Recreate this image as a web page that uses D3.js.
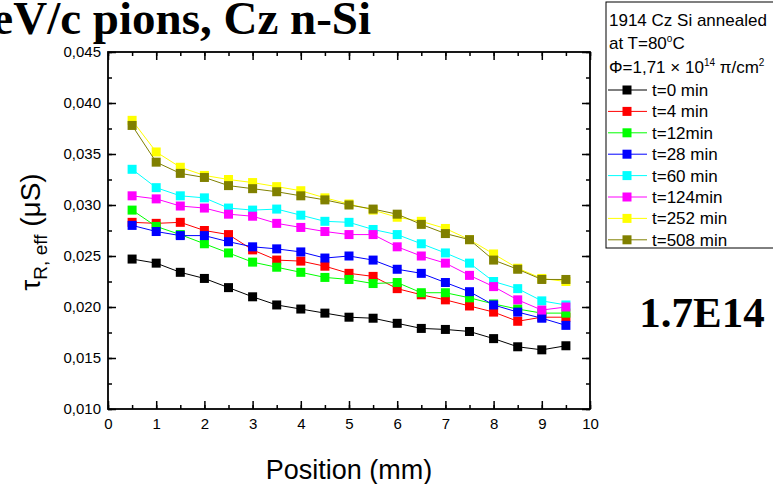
<!DOCTYPE html>
<html><head><meta charset="utf-8">
<script src="https://cdn.jsdelivr.net/npm/d3@7"></script>
<style>body{margin:0;background:#fff}svg{display:block}</style>
</head><body>
<svg id="c" width="773" height="484"></svg>
<script>
const positions = [0.5,1,1.5,2,2.5,3,3.5,4,4.5,5,5.5,6,6.5,7,7.5,8,8.5,9,9.5];
const seriesNames = ["t=0 min","t=4 min","t=12min","t=28 min","t=60 min","t=124min","t=252 min","t=508 min"];
const seriesColors = ["#000000","#ff0000","#00ff00","#0000ff","#00ffff","#ff00ff","#ffff00","#808000"];
const t0   = [0.0247,0.0243,0.0234,0.0228,0.0219,0.0210,0.0202,0.0198,0.0194,0.0190,0.0189,0.0184,0.0179,0.0178,0.0176,0.0169,0.0161,0.0158,0.0162];
const t4   = [0.0283,0.0282,0.0283,0.0275,0.0271,0.0256,0.0246,0.0245,0.0240,0.0233,0.0230,0.0218,0.0212,0.0207,0.0201,0.0195,0.0186,0.0190,0.0190];
const t12  = [0.0295,0.0279,0.0271,0.0262,0.0253,0.0244,0.0239,0.0234,0.0229,0.0227,0.0223,0.0224,0.0214,0.0214,0.0209,0.0203,0.0198,0.0194,0.0194];
const t28  = [0.0280,0.0274,0.0270,0.0270,0.0264,0.0259,0.0257,0.0254,0.0248,0.0250,0.0246,0.0237,0.0233,0.0224,0.0215,0.0202,0.0195,0.0189,0.0182];
const t60  = [0.0335,0.0317,0.0309,0.0307,0.0297,0.0295,0.0296,0.0290,0.0284,0.0283,0.0276,0.0271,0.0262,0.0253,0.0243,0.0225,0.0218,0.0206,0.0202];
const t124 = [0.0309,0.0306,0.0299,0.0297,0.0291,0.0289,0.0282,0.0278,0.0274,0.0271,0.0271,0.0259,0.0250,0.0243,0.0231,0.0220,0.0207,0.0197,0.0200];
const t252 = [0.0383,0.0352,0.0337,0.0329,0.0325,0.0322,0.0318,0.0314,0.0307,0.0301,0.0295,0.0288,0.0284,0.0277,0.0266,0.0252,0.0238,0.0228,0.0225];
const t508 = [0.0378,0.0342,0.0331,0.0327,0.0319,0.0316,0.0313,0.0309,0.0305,0.0300,0.0296,0.0291,0.0281,0.0272,0.0266,0.0246,0.0237,0.0227,0.0227];
const seriesValues = [t0,t4,t12,t28,t60,t124,t252,t508];
const xTicks = [0,1,2,3,4,5,6,7,8,9,10];
const yTicks = [0.010,0.015,0.020,0.025,0.030,0.035,0.040,0.045];

const svg = d3.select("#c");
const L=108,R=590,T=52,B=409;
const x = d3.scaleLinear().domain([0,10]).range([L,R]);
const y = d3.scaleLinear().domain([0.010,0.045]).range([B,T]);
const sans = "Arial, 'Liberation Sans', Helvetica, sans-serif";
const serif = "'Times New Roman', 'Liberation Serif', serif";

// title
svg.append("text").attr("x",371).attr("y",34).attr("text-anchor","end")
  .attr("font-family",serif).attr("font-weight","bold").attr("font-size",47)
  .text("eV/c pions, Cz n-Si");

// axes (ticks inward on all sides)
const minorX = d3.range(0,10.01,0.5), minorY = d3.range(0.010,0.0451,0.0025);
const g = svg.append("g");
const axB = d3.axisBottom(x).tickValues(xTicks).tickSize(-8).tickFormat(d3.format("d"));
const axT = d3.axisTop(x).tickValues(xTicks).tickSize(-8).tickFormat("");
const axL = d3.axisLeft(y).tickValues(yTicks).tickSize(-8).tickFormat(d=>d3.format(".3f")(d).replace(".",","));
const axR = d3.axisRight(y).tickValues(yTicks).tickSize(-8).tickFormat("");
const mB = d3.axisBottom(x).tickValues(minorX).tickSize(-4).tickFormat("");
const mT = d3.axisTop(x).tickValues(minorX).tickSize(-4).tickFormat("");
const mL = d3.axisLeft(y).tickValues(minorY).tickSize(-4).tickFormat("");
const mR = d3.axisRight(y).tickValues(minorY).tickSize(-4).tickFormat("");
function place(ax, tr){ const a=g.append("g").attr("transform",tr).call(ax);
  a.select(".domain").remove(); a.selectAll("line").attr("stroke","#000").attr("stroke-width",1.5);
  a.selectAll("text").attr("font-family",sans).attr("font-size",15).attr("fill","#000"); return a;}
const ab=place(axB,`translate(0,${B})`); ab.selectAll("text").attr("dy","1.15em");
place(axT,`translate(0,${T})`);
const al=place(axL,`translate(${L},0)`); al.selectAll("text").attr("x",-7);
place(axR,`translate(${R},0)`);
place(mB,`translate(0,${B})`);place(mT,`translate(0,${T})`);place(mL,`translate(${L},0)`);place(mR,`translate(${R},0)`);
svg.append("rect").attr("x",L).attr("y",T).attr("width",R-L).attr("height",B-T)
  .attr("fill","none").attr("stroke","#000").attr("stroke-width",1.8);

// series
const line = d3.line().x((d,i)=>x(positions[i])).y(d=>y(d));
const ms = 9;
seriesValues.forEach((vals,si)=>{
  const col = seriesColors[si];
  const sg = svg.append("g");
  sg.append("path").datum(vals).attr("d",line).attr("fill","none").attr("stroke",col).attr("stroke-width",1);
  sg.selectAll("rect").data(vals).join("rect")
    .attr("x",(d,i)=>x(positions[i])-ms/2).attr("y",d=>y(d)-ms/2)
    .attr("width",ms).attr("height",ms).attr("fill",col);
});

// axis titles
svg.append("text").attr("x",349).attr("y",479).attr("text-anchor","middle")
  .attr("font-family",sans).attr("font-size",27).text("Position (mm)");
const yt = svg.append("text").attr("transform","translate(40,232) rotate(-90)").attr("text-anchor","middle")
  .attr("font-family",sans).attr("font-size",28);
yt.append("tspan").text("τ");
yt.append("tspan").attr("font-size",19).attr("dy",7).text("R, eff");
yt.append("tspan").attr("dy",-7).text(" (μS)");

// annotation
svg.append("text").attr("x",702).attr("y",327).attr("text-anchor","middle")
  .attr("font-family",serif).attr("font-weight","bold").attr("font-size",43).text("1.7E14");

// legend
const lg = svg.append("g");
lg.append("rect").attr("x",606).attr("y",2).attr("width",190).attr("height",246)
  .attr("fill","#fff").attr("stroke","#000").attr("stroke-width",1);
const fs=17;
lg.append("text").attr("x",609).attr("y",26).attr("font-family",sans).attr("font-size",fs).text("1914 Cz Si annealed");
const l2 = lg.append("text").attr("x",609).attr("y",49).attr("font-family",sans).attr("font-size",fs);
l2.append("tspan").text("at T=80");
l2.append("tspan").attr("font-size",10).attr("dy",-7).text("o");
l2.append("tspan").attr("dy",7).text("C");
const l3 = lg.append("text").attr("x",609).attr("y",73).attr("font-family",sans).attr("font-size",fs);
l3.append("tspan").text("Φ=1,71 × 10");
l3.append("tspan").attr("font-size",10).attr("dy",-7).text("14");
l3.append("tspan").attr("dy",7).text(" π/cm");
l3.append("tspan").attr("font-size",10).attr("dy",-7).text("2");
seriesNames.forEach((n,i)=>{
  const cy = 90 + i*21.4;
  lg.append("line").attr("x1",608).attr("x2",647).attr("y1",cy).attr("y2",cy).attr("stroke",seriesColors[i]).attr("stroke-width",1);
  lg.append("rect").attr("x",627-4.5).attr("y",cy-4.5).attr("width",9).attr("height",9).attr("fill",seriesColors[i]);
  lg.append("text").attr("x",652).attr("y",cy+6).attr("font-family",sans).attr("font-size",fs).text(n);
});
</script>
</body></html>
